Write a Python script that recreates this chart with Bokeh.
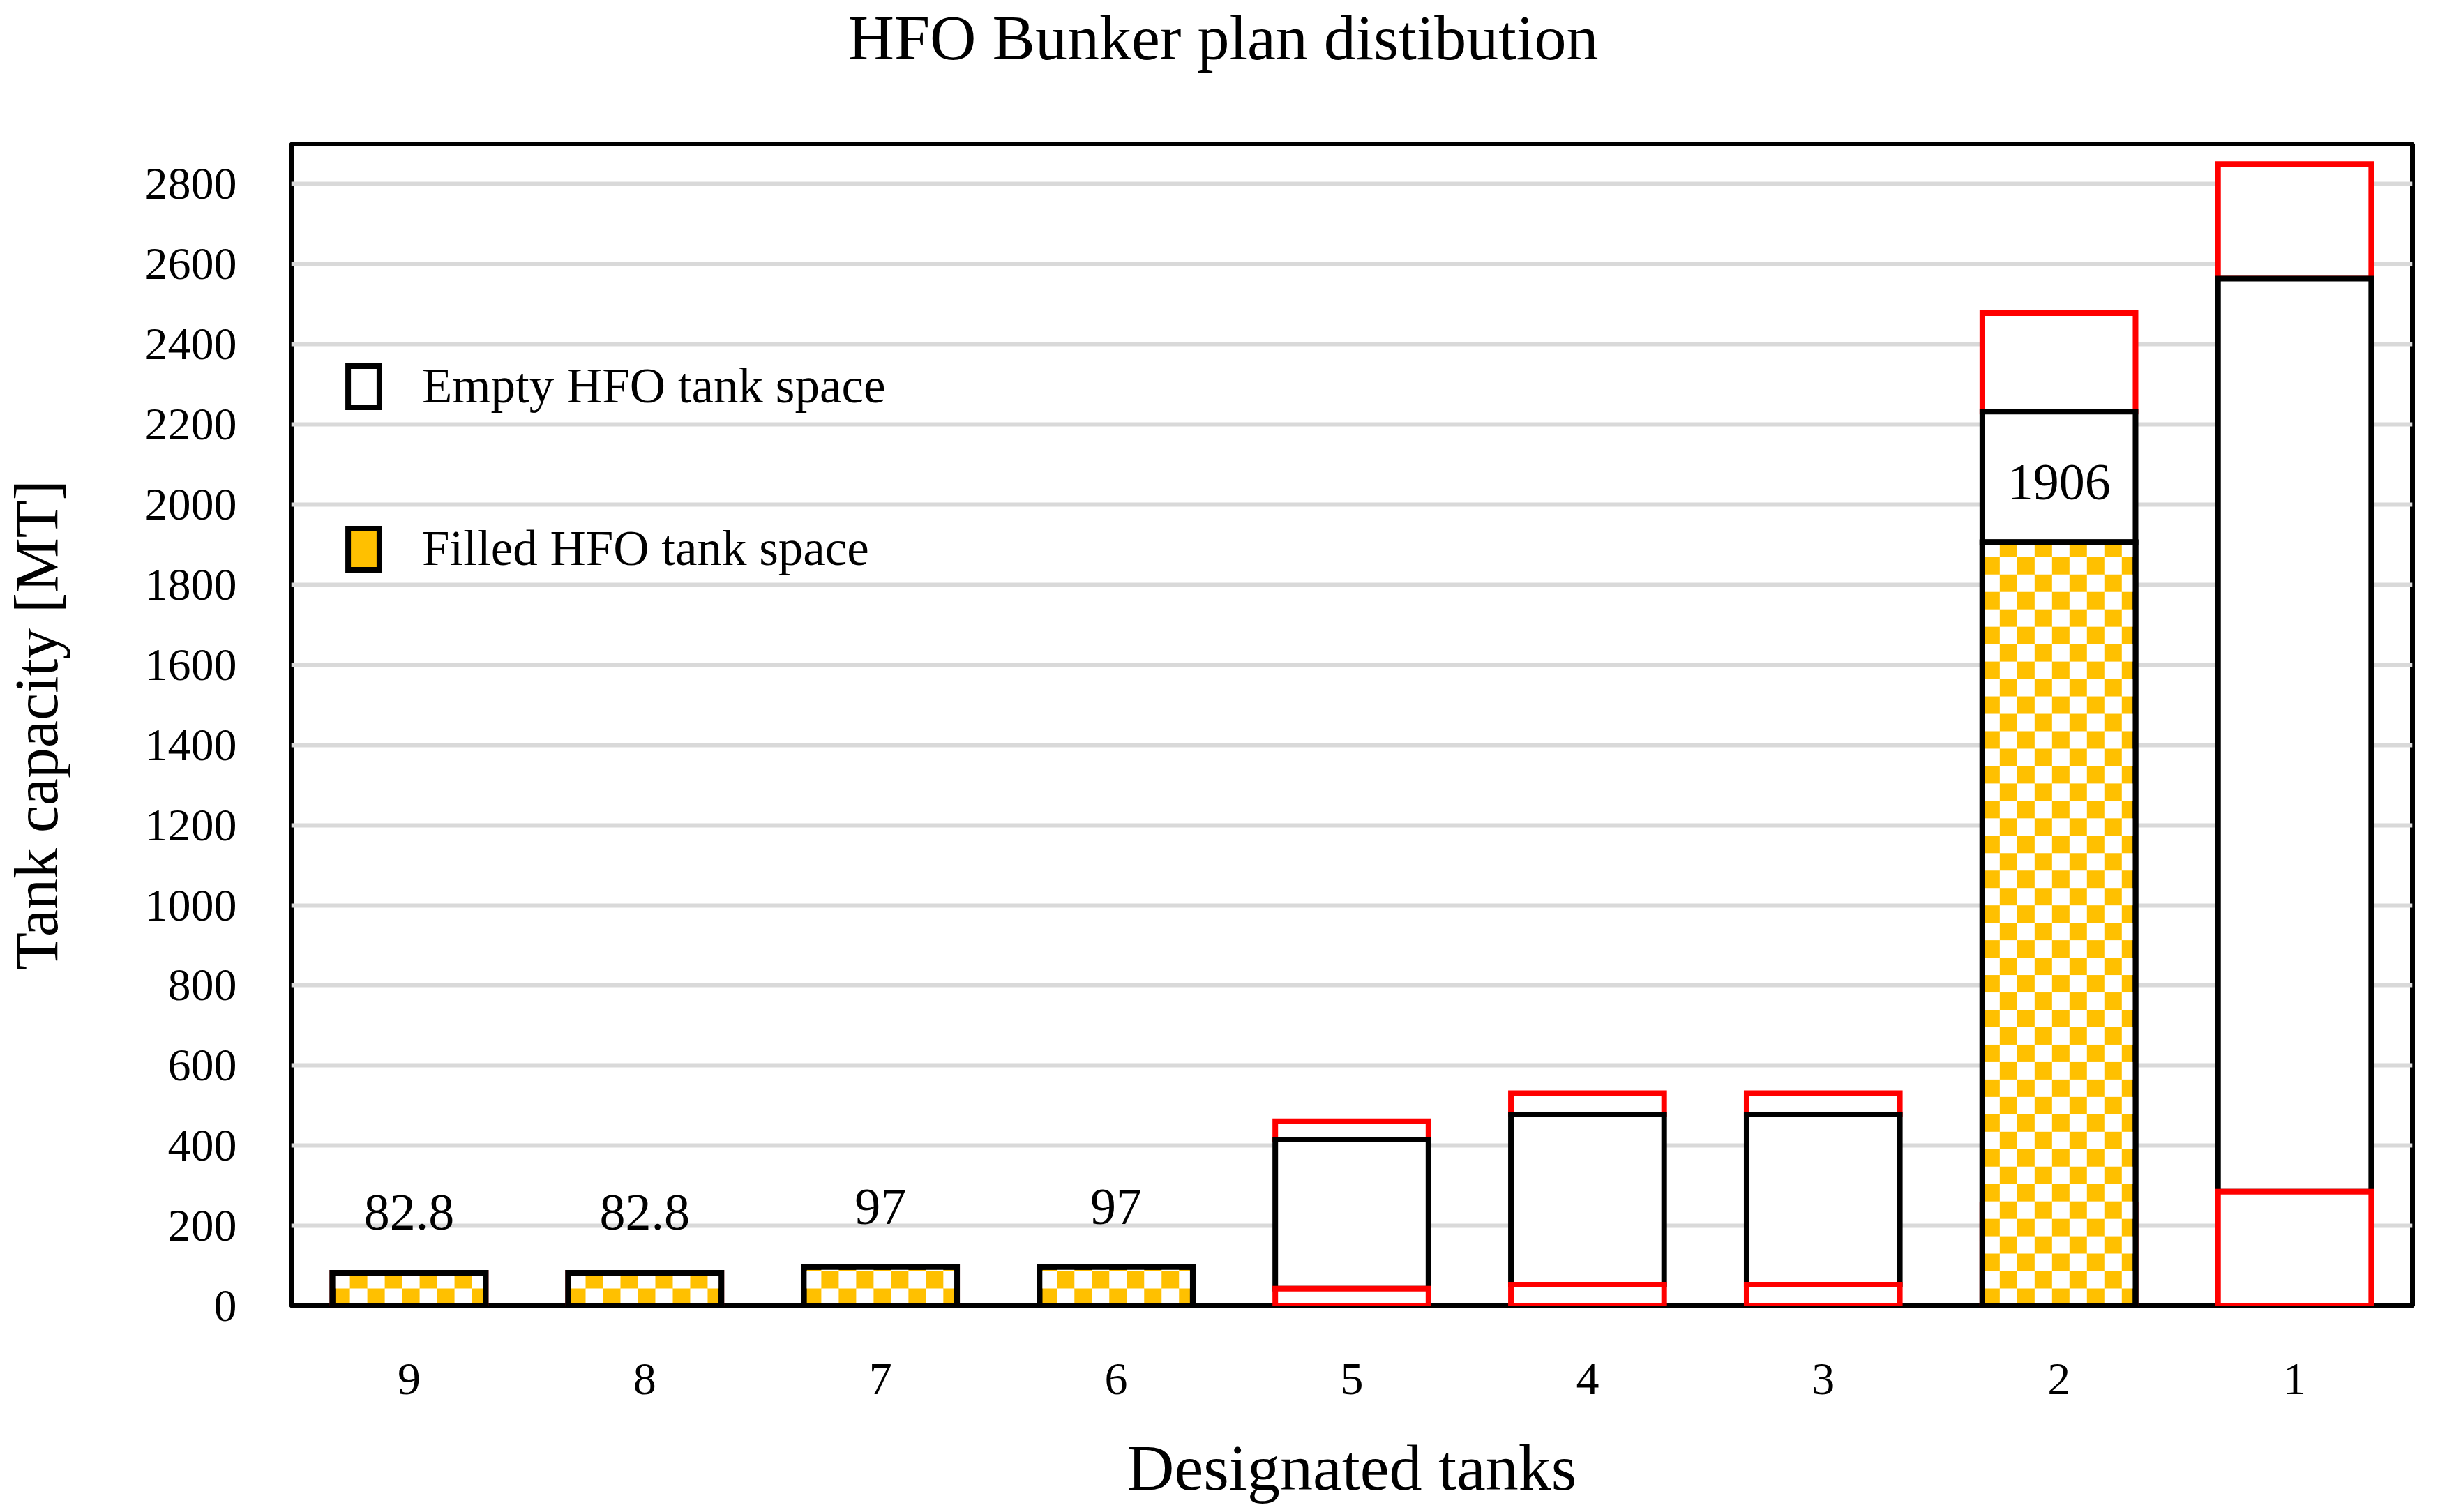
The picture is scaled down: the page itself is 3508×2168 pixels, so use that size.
from bokeh.plotting import figure
from bokeh.models import (ColumnDataSource, Range1d, SingleIntervalTicker, Legend, LegendItem,
                          LabelSet)
from bokeh.embed import file_html
from bokeh.resources import INLINE

# ---- data ----
tanks = ["9", "8", "7", "6", "5", "4", "3", "2", "1"]
unpumpable = [82.8, 82.8, 97, 97, 43, 53, 53, 252, 285]      # red lower part
filled = [82.8, 82.8, 97, 97, 0, 0, 0, 1906, 0]               # filled HFO
usable_top = [82.8, 82.8, 97, 97, 415, 478, 478, 2232, 2564]  # top of empty space
capacity = [82.8, 82.8, 97, 97, 461, 531, 531, 2478, 2850]    # red upper part top

TITLE = "HFO Bunker plan distibution"
X_TITLE = "Designated tanks"
Y_TITLE = "Tank capacity [MT]"

FONT = "Liberation Serif"
Y_MAX = 2900
PW, PH = 3508, 2168
BL, BR, BT, BB = 416, 50, 204, 296
FW, FH = PW - BL - BR, PH - BT - BB   # frame size in px

p = figure(x_range=tanks, y_range=Range1d(0, Y_MAX), width=PW, height=PH,
           output_backend="svg", toolbar_location=None,
           min_border_left=BL, min_border_right=BR, min_border_top=BT, min_border_bottom=BB)
p.x_range.range_padding = 0

# segments
rt = [(t, u, c) for t, u, c in zip(tanks, usable_top, capacity) if c > u]
src_rt = ColumnDataSource(dict(x=[a[0] for a in rt], b=[a[1] for a in rt], t=[a[2] for a in rt]))
em = [(t, max(f, up), u) for t, f, up, u in zip(tanks, filled, unpumpable, usable_top) if u > max(f, up)]
src_em = ColumnDataSource(dict(x=[a[0] for a in em], b=[a[1] for a in em], t=[a[2] for a in em]))
src_rb = ColumnDataSource(dict(x=tanks, b=[0] * len(tanks), t=unpumpable))
fl = [(t, f) for t, f in zip(tanks, filled) if f > 0]
src_fl = ColumnDataSource(dict(x=[a[0] for a in fl], b=[0] * len(fl), t=[a[1] for a in fl],
                               lab=[f"{a[1]:g}" for a in fl]))

W = 0.65
LW = 8
YELLOW = "#FFC000"
p.vbar(x="x", bottom="b", top="t", width=W, source=src_rt, fill_color="white",
       line_color="#FF0000", line_width=LW, line_join="miter")
r_empty = p.vbar(x="x", bottom="b", top="t", width=W, source=src_em, fill_color="white",
                 line_color="black", line_width=LW, line_join="miter")
p.vbar(x="x", bottom="b", top="t", width=W, source=src_rb, fill_color="white",
       line_color="#FF0000", line_width=LW, line_join="miter")

# filled: yellow base with white checker cells (pattern fill), then outline
r_filled = p.vbar(x="x", bottom="b", top="t", width=W, source=src_fl, fill_color=YELLOW,
                  line_color="black", line_width=LW, line_join="miter")
px_per_cat = FW / len(tanks)
px_per_unit = FH / Y_MAX
CELL = 25  # pattern cell size in pixels
cw = CELL / px_per_cat
ch = CELL / px_per_unit
L, R, B, T = [], [], [], []
for t, f in fl:
    ncol = int(W / cw) + 1
    nrow = int(f / ch) + 1
    for r in range(nrow):
        for k in range(ncol):
            if (r + k) % 2 == 1:
                x0 = -W / 2 + k * cw
                x1 = min(x0 + cw, W / 2)
                y0 = r * ch
                y1 = min(y0 + ch, f)
                L.append((t, x0)); R.append((t, x1)); B.append(y0); T.append(y1)
src_ck = ColumnDataSource(dict(left=L, right=R, bottom=B, top=T))
p.quad(left="left", right="right", bottom="bottom", top="top", source=src_ck,
       fill_color="white", line_color=None)
p.vbar(x="x", bottom="b", top="t", width=W, source=src_fl, fill_alpha=0,
       line_color="black", line_width=LW, line_join="miter")

labels = LabelSet(x="x", y="t", text="lab", source=src_fl, y_offset=86,
                  text_align="center", text_baseline="middle",
                  text_font=FONT, text_font_size="74px", text_color="black")
p.add_layout(labels)

legend = Legend(items=[LegendItem(label="Empty HFO tank space", renderers=[r_empty]),
                       LegendItem(label="Filled HFO tank space", renderers=[r_filled])],
                location=(76, 1045), orientation="vertical",
                glyph_width=56, glyph_height=74, label_height=80, label_standoff=56,
                spacing=152, padding=0, margin=0,
                label_text_font=FONT, label_text_font_size="71px", label_text_color="black",
                border_line_alpha=0, background_fill_alpha=0)
p.add_layout(legend, "center")

# axes
p.yaxis.ticker = SingleIntervalTicker(interval=200)
for ax in (p.xaxis[0], p.yaxis[0]):
    ax.axis_line_color = None
    ax.major_tick_line_color = None
    ax.minor_tick_line_color = None
    ax.major_label_text_font = FONT
    ax.major_label_text_font_size = "66px"
    ax.major_label_text_color = "black"
    ax.axis_label_text_font = FONT
    ax.axis_label_text_font_style = "normal"
    ax.axis_label_text_color = "black"
p.xaxis.axis_label = X_TITLE
p.xaxis.axis_label_text_font_size = "94px"
p.xaxis.major_label_standoff = 77
p.xaxis.axis_label_standoff = 50
p.yaxis.axis_label = Y_TITLE
p.yaxis.axis_label_text_font_size = "88px"
p.yaxis.major_label_standoff = 72
p.yaxis.axis_label_standoff = 104

p.xgrid.grid_line_color = None
p.ygrid.grid_line_color = "#D9D9D9"
p.ygrid.grid_line_width = 6

p.outline_line_color = "black"
p.outline_line_width = 7
p.background_fill_color = "white"
p.border_fill_color = "white"

# title: an empty second line lifts it away from the frame
p.title.text = TITLE + "\n"
p.title.text_font = FONT
p.title.text_font_size = "92px"
p.title.text_font_style = "normal"
p.title.text_color = "black"
p.title.align = "left"
p.title.vertical_align = "bottom"
p.title.offset = 798
p.title.standoff = 0

open("out.html", "w").write(file_html(p, INLINE))
